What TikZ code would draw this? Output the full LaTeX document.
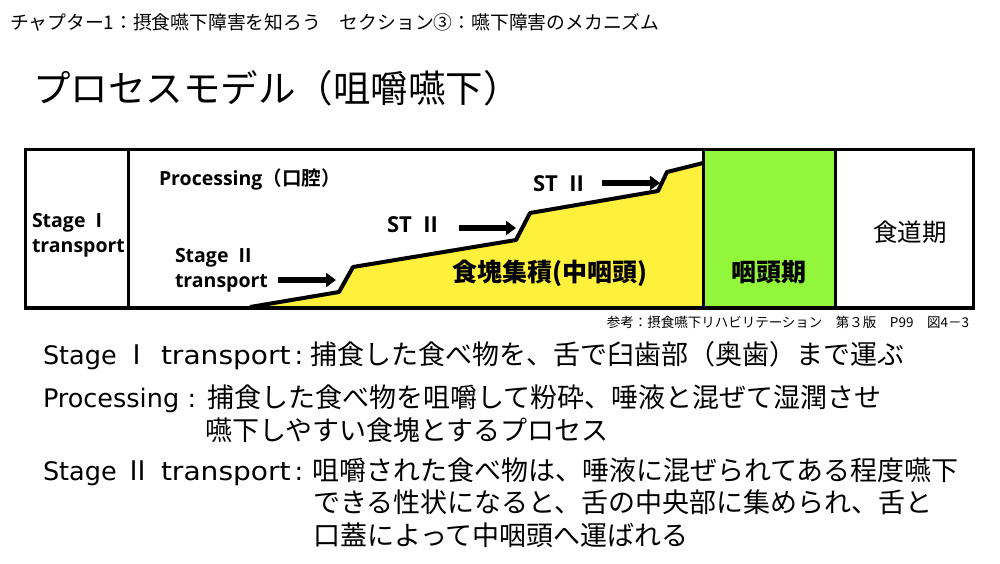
\documentclass[tikz,border=0pt]{standalone}
\usepackage{fontspec}
\setmainfont{Noto Sans CJK JP}
\newfontfamily\lat{Open Sans}
\newfontfamily\vlat{DejaVu Sans}
\newfontfamily\vlatwide{DejaVu Sans}[FakeStretch=1.1]
\usetikzlibrary{arrows.meta}
\definecolor{ylw}{RGB}{255,240,60}
\definecolor{grn}{RGB}{146,247,58}
\newcommand\fsz[1]{\fontsize{#1}{#1}\selectfont}
\begin{document}
\begin{tikzpicture}[x=1pt,y=-1pt,
  every node/.style={inner sep=0pt,outer sep=0pt},
  hdr/.style={anchor=base west,font=\fsz{18.8}},
  ttl/.style={anchor=base west,font=\fsz{37.5}},
  boxlbl/.style={anchor=base west,font=\lat\bfseries\fsz{19.5}},
  stlbl/.style={anchor=base west,font=\lat\bfseries\fsz{22}},
  big/.style={anchor=base,font=\bfseries\fsz{25}},
  body/.style={anchor=base west,font=\fsz{27}},
  bodylat/.style={anchor=base west,font=\vlat\fsz{25.5}},
  bodylatw/.style={anchor=base west,font=\vlatwide\fsz{25.5}},
  numeral/.style={anchor=base,font=\fsz{27}},
  colon/.style={anchor=base,font=\vlat\fsz{25.5}},
  frame/.style={line width=3pt},
  blockarrow/.style={line width=6pt,-{Triangle[length=10pt,width=14pt]}},
  stair/.style={line width=4pt,line join=round}]
\useasboundingbox (0,0) rectangle (1000,563);
\fill[white] (0,0) rectangle (1000,563);

% header and title
\node[hdr] (header) at (10,29) {チャプター1：摂食嚥下障害を知ろう　セクション③：嚥下障害のメカニズム};
\node[ttl] (title) at (33,102) {プロセスモデル（咀嚼嚥下）};

% green pharyngeal column
\fill[grn] (703,149) rectangle (835,308);

% yellow bolus area
\coordinate (p0) at (250,307);
\coordinate (p1) at (339,292);
\coordinate (p2) at (353,267);
\coordinate (p3) at (516,240);
\coordinate (p4) at (530,213);
\coordinate (p5) at (658,191);
\coordinate (p6) at (667,172);
\coordinate (p7) at (703,163);
\fill[ylw] (p0) -- (p1) -- (p2) -- (p3) -- (p4) -- (p5) -- (p6) -- (p7) -- (703,307) -- cycle;
\draw[stair] (p0) -- (p1) -- (p2) -- (p3) -- (p4) -- (p5) -- (p6) -- (p7);

% frame
\draw[frame] (25,149) rectangle (973,308);
\draw[line width=4pt] (25,307.5) -- (973,307.5);
\draw[frame] (128,149) -- (128,308);
\draw[frame] (703,149) -- (703,308);
\draw[frame] (835,149) -- (835,308);

% box labels
\node[boxlbl] (s1a) at (32,227) {Stage\ \ I};
\node[boxlbl] (s1b) at (32,252) {transport};
\node[boxlbl] (proc) at (159,185) {Processing\fontspec{Noto Sans CJK JP}[BoldFont={* Bold}]（口腔）};
\node[boxlbl] (s2a) at (175,262) {Stage\ \ II};
\node[boxlbl] (s2b) at (175,287) {transport};
\node[stlbl] (st1) at (387,232) {ST\ \ II};
\node[stlbl] (st2) at (533,191) {ST\ \ II};
\node[big] (bolus) at (550,281) {食塊集積(中咽頭)};
\node[big] (phar) at (769,281) {咽頭期};
\node[anchor=base,font=\fsz{24.5}] (eso) at (910,241) {食道期};
\node[anchor=base east,font=\fsz{13.5}] (ref) at (969,327) {参考：摂食嚥下リハビリテーション　第３版　P99　図4－3};

% arrows
\coordinate (a1s) at (278,280);
\coordinate (a1e) at (336,280);
\coordinate (a2s) at (459,228);
\coordinate (a2e) at (516,228);
\coordinate (a3s) at (602,183);
\coordinate (a3e) at (660,183);
\draw[blockarrow] (a1s) -- (a1e);
\draw[blockarrow] (a2s) -- (a2e);
\draw[blockarrow] (a3s) -- (a3e);

% explanations
\node[bodylat] (l1s) at (43,364) {Stage};
\node[numeral] (l1n) at (137,364) {Ⅰ};
\node[bodylatw] (l1t) at (161,364) {transport};
\node[colon] (l1c) at (299,364) {:};
\node[body] (l1b) at (310,364) {捕食した食べ物を、舌で臼歯部（奥歯）まで運ぶ};

\node[bodylat] (l2a) at (43,407) {Processing};
\node[colon] (l2c) at (192,407) {:};
\node[body] (l2b) at (207,407) {捕食した食べ物を咀嚼して粉砕、唾液と混ぜて湿潤させ};
\node[body] (l3b) at (205,440) {嚥下しやすい食塊とするプロセス};

\node[bodylat] (l4s) at (43,480) {Stage};
\node[numeral] (l4n) at (138,480) {Ⅱ};
\node[bodylatw] (l4t) at (161,480) {transport};
\node[colon] (l4c) at (299,480) {:};
\node[body] (l4b) at (312,480) {咀嚼された食べ物は、唾液に混ぜられてある程度嚥下};
\node[body] (l5b) at (313,512) {できる性状になると、舌の中央部に集められ、舌と};
\node[body] (l6b) at (313,545) {口蓋によって中咽頭へ運ばれる};
\end{tikzpicture}
\end{document}
